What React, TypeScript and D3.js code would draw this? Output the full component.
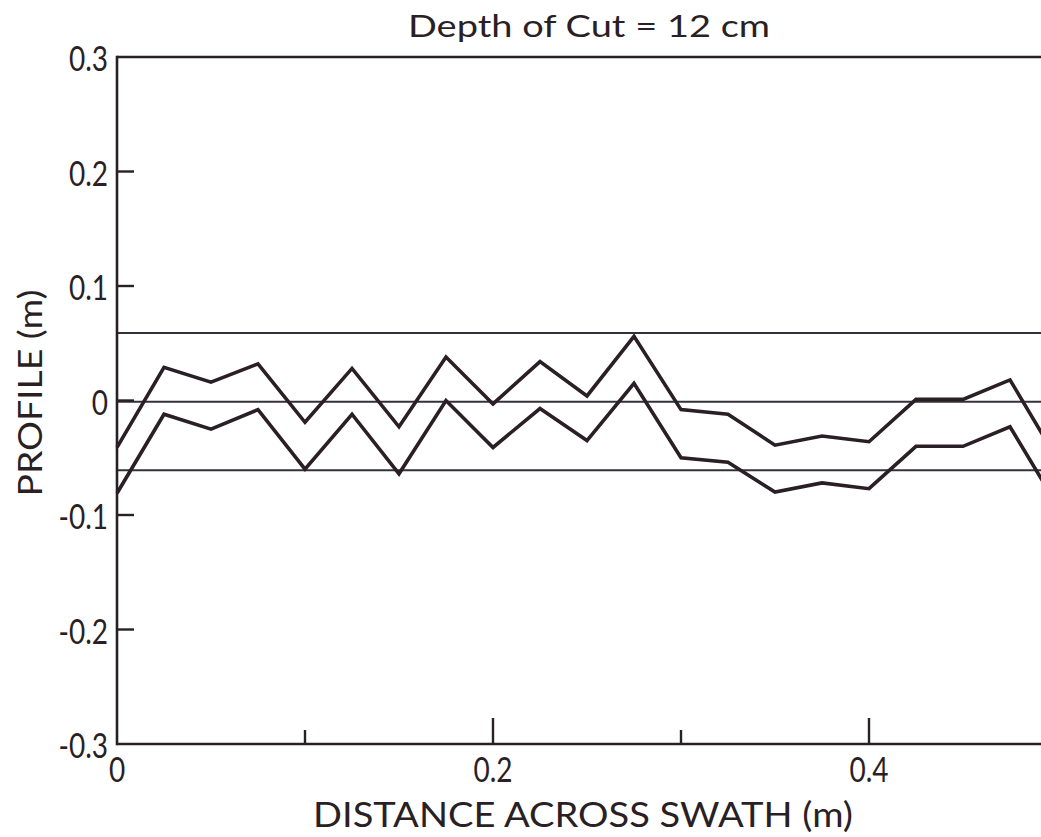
import React from "react";
import * as d3 from "d3";

const distance = [0, 0.025, 0.05, 0.075, 0.1, 0.125, 0.15, 0.175, 0.2, 0.225, 0.25, 0.275, 0.3, 0.325, 0.35, 0.375, 0.4, 0.425, 0.45, 0.475, 0.5];
const upperProfile = [-0.041, 0.029, 0.016, 0.032, -0.019, 0.028, -0.023, 0.038, -0.003, 0.034, 0.004, 0.056, -0.008, -0.012, -0.039, -0.031, -0.036, 0.001, 0.001, 0.018, -0.051];
const lowerProfile = [-0.081, -0.012, -0.025, -0.008, -0.060, -0.012, -0.064, 0.000, -0.041, -0.007, -0.035, 0.015, -0.050, -0.054, -0.080, -0.072, -0.077, -0.040, -0.040, -0.023, -0.091];
const referenceLevels = [0.059, -0.001, -0.061];
const yTicks = [0.3, 0.2, 0.1, 0, -0.1, -0.2, -0.3];
const yTickLabels = ["0.3", "0.2", "0.1", "0", "-0.1", "-0.2", "-0.3"];
const xMajorTicks = [0.2, 0.4];
const xMinorTicks = [0.1, 0.3];
const xTickLabels = [
  { v: 0, t: "0" },
  { v: 0.2, t: "0.2" },
  { v: 0.4, t: "0.4" },
];
const title = "Depth of Cut = 12 cm";
const xTitle = "DISTANCE ACROSS SWATH (m)";
const yTitle = "PROFILE (m)";

const W = 1041;
const H = 837;
const INK = "#2a1f25";
const FONT = "Lato, 'Open Sans', sans-serif";

export default function App() {
  const x = d3.scaleLinear().domain([0, 0.5]).range([117, 1057]);
  const y = d3.scaleLinear().domain([-0.3, 0.3]).range([744, 57]);

  const line = d3
    .line<number>()
    .x((_, i) => x(distance[i]))
    .y((d) => y(d));

  const x0 = x(0);
  const x1 = x(0.5);
  const yTop = y(0.3);
  const yBot = y(-0.3);

  return (
    <svg
      width={W}
      height={H}
      style={{ position: "absolute", left: 0, top: 0, background: "#fff" }}
    >
      <rect x={0} y={0} width={W} height={H} fill="#fff" />
      {/* title */}
      <text
        x={589}
        y={37}
        textAnchor="middle"
        fontFamily={FONT}
        fontSize={30}
        fill={INK}
        textLength={362}
        lengthAdjust="spacingAndGlyphs"
      >
        {title}
      </text>

      {/* reference lines */}
      {referenceLevels.map((v, i) => (
        <line
          key={"r" + i}
          x1={x0}
          x2={x1}
          y1={y(v)}
          y2={y(v)}
          stroke="#34303a"
          strokeWidth={2}
        />
      ))}

      {/* profile lines */}
      <path d={line(upperProfile) || ""} fill="none" stroke={INK} strokeWidth={3.6} strokeLinejoin="miter" />
      <path d={line(lowerProfile) || ""} fill="none" stroke={INK} strokeWidth={3.6} strokeLinejoin="miter" />

      {/* frame */}
      <line x1={x0} x2={x1} y1={yTop} y2={yTop} stroke={INK} strokeWidth={2.6} />
      <line x1={x0} x2={x0} y1={yTop - 1.3} y2={yBot + 1.3} stroke={INK} strokeWidth={2.6} />
      <line x1={x0} x2={x1} y1={yBot} y2={yBot} stroke={INK} strokeWidth={2.6} />

      {/* y ticks */}
      {yTicks.map((v, i) => (
        <g key={"yt" + i}>
          {v !== 0.3 && v !== -0.3 && (
            <line x1={x0} x2={x0 + 17} y1={y(v)} y2={y(v)} stroke={INK} strokeWidth={2.4} />
          )}
          <text
            transform={`translate(108, ${y(v) + 14}) scale(0.8, 1)`}
            textAnchor="end"
            fontFamily={FONT}
            fontSize={35}
            fill={INK}
          >
            {yTickLabels[i]}
          </text>
        </g>
      ))}

      {/* x ticks */}
      {xMajorTicks.map((v, i) => (
        <line key={"xM" + i} x1={x(v)} x2={x(v)} y1={yBot} y2={yBot - 26} stroke={INK} strokeWidth={2.4} />
      ))}
      {xMinorTicks.map((v, i) => (
        <line key={"xm" + i} x1={x(v)} x2={x(v)} y1={yBot} y2={yBot - 14} stroke={INK} strokeWidth={2.4} />
      ))}
      {xTickLabels.map((d, i) => (
        <text
          key={"xl" + i}
          transform={`translate(${x(d.v)}, 782) scale(0.8, 1)`}
          textAnchor="middle"
          fontFamily={FONT}
          fontSize={35}
          fill={INK}
        >
          {d.t}
        </text>
      ))}

      {/* axis titles */}
      <text
        x={583}
        y={827}
        textAnchor="middle"
        fontFamily={FONT}
        fontSize={34}
        fill={INK}
        textLength={540}
        lengthAdjust="spacingAndGlyphs"
      >
        {xTitle}
      </text>
      <text
        transform={`translate(42, 393) rotate(-90)`}
        textAnchor="middle"
        fontFamily={FONT}
        fontSize={33}
        fill={INK}
        textLength={207}
        lengthAdjust="spacingAndGlyphs"
      >
        {yTitle}
      </text>
    </svg>
  );
}
